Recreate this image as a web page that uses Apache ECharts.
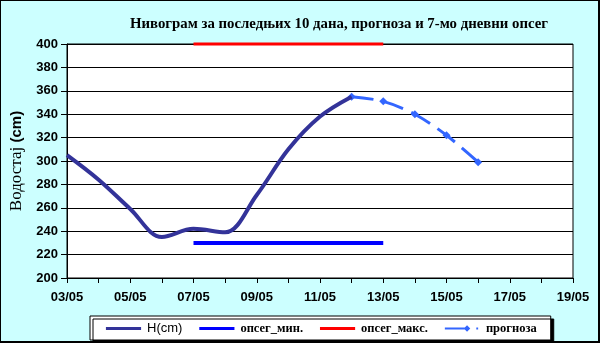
<!DOCTYPE html>
<html>
<head>
<meta charset="utf-8">
<script src="https://cdn.jsdelivr.net/npm/echarts@6/dist/echarts.min.js"></script>
<style>
  html, body { margin: 0; padding: 0; background: #CCFFFF; }
  #wrap { position: relative; width: 600px; height: 343px; }
  #chart { width: 600px; height: 343px; }
  #frame { position: absolute; left: 0; top: 0; width: 600px; height: 343px; box-sizing: border-box;
           border-top: 1px solid #000; border-left: 1px solid #000; border-right: 2px solid #000; border-bottom: 2px solid #000;
           pointer-events: none; }
</style>
</head>
<body>
<div id="wrap"><div id="chart"></div><div id="frame"></div></div>
<script>
// Measured water level H (cm), one reading per day
const levelDates = ['03/05', '04/05', '05/05', '06/05', '07/05', '08/05', '09/05', '10/05', '11/05', '12/05'];
const levelValues = [305, 284, 259, 235, 242, 239, 271, 310, 338, 355];

// Forecast for the coming days
const forecastDates = ['12/05', '13/05', '14/05', '15/05', '16/05'];
const forecastValues = [355, 351, 340, 322, 299];

// 7-day flood-stage band (min / max)
const bandDates = ['07/05', '13/05'];
const bandMin = [230, 230];
const bandMax = [400, 400];

// Axis range and labels
const xFirst = '03/05';
const xLast = '19/05';
const yMin = 200, yMax = 400, yStep = 20;

const day = s => parseInt(s.split('/')[0], 10);
const pairs = (dates, vals) => dates.map((d, i) => [day(d), vals[i]]);
const pad = n => (n < 10 ? '0' : '') + n;

const serif = '"Liberation Serif", "Times New Roman", serif';
const sans = '"Liberation Sans", Arial, sans-serif';

// Legend icons: the zero-length moves fix the icon box at 40x10
const box = 'M0,0 L0,0 M40,10 L40,10 ';
const barIcon = 'path://' + box + 'M1,3.5 L39,3.5 L39,6.5 L1,6.5 Z';
const forecastIcon = 'path://' + box +
  'M1,4 L25,4 L25,6 L1,6 Z M25,1.5 L28.5,5 L25,8.5 L21.5,5 Z M35,4 L37,4 L37,6 L35,6 Z';

const chart = echarts.init(document.getElementById('chart'));
chart.setOption({
  backgroundColor: '#CCFFFF',
  animation: false,
  title: {
    text: 'Нивограм за последњих 10 дана, прогноза и 7-мо дневни опсег',
    left: 334, top: 12, textAlign: 'center',
    textStyle: { fontFamily: serif, fontWeight: 'bold', fontSize: 14.8, color: '#000' }
  },
  grid: {
    left: 67, right: 27, top: 44, bottom: 65,
    show: true, backgroundColor: '#fff', borderColor: '#000', borderWidth: 1
  },
  xAxis: {
    type: 'value', min: day(xFirst), max: day(xLast), interval: 1,
    axisLine: { lineStyle: { color: '#000', width: 1 } },
    axisTick: { show: true, inside: false, length: 5, lineStyle: { color: '#000' } },
    splitLine: { show: false },
    axisLabel: {
      margin: 13, color: '#000', fontFamily: sans, fontWeight: 'bold', fontSize: 13,
      formatter: v => (v % 2 === 1 ? pad(v) + '/05' : '')
    }
  },
  yAxis: {
    type: 'value', min: yMin, max: yMax, interval: yStep,
    name: '{a|Водостај }{b|(cm)}', nameLocation: 'middle', nameRotate: 90, nameGap: 42,
    nameTextStyle: {
      rich: {
        a: { fontFamily: serif, fontSize: 17, color: '#000' },
        b: { fontFamily: sans, fontWeight: 'bold', fontSize: 15, color: '#000' }
      }
    },
    axisLine: { show: true, lineStyle: { color: '#000', width: 1 } },
    axisTick: { show: true, length: 6, lineStyle: { color: '#000' } },
    splitLine: { show: true, lineStyle: { color: '#000', width: 1 } },
    axisLabel: { margin: 9, color: '#000', fontFamily: sans, fontWeight: 'bold', fontSize: 13 }
  },
  legend: {
    left: 90, top: 316,
    padding: [6, 14, 5, 15], itemGap: 16, itemWidth: 37, itemHeight: 10,
    backgroundColor: '#fff', borderColor: '#000', borderWidth: 1,
    shadowColor: '#000', shadowOffsetX: 3, shadowOffsetY: 3, shadowBlur: 0,
    data: [
      { name: 'H(cm)', icon: barIcon },
      { name: 'опсег_мин.', icon: barIcon },
      { name: 'опсег_макс.', icon: barIcon },
      { name: 'прогноза', icon: forecastIcon }
    ],
    formatter: n => (n === 'H(cm)' ? '{a|' + n + '}' : '{b|' + n + '}'),
    textStyle: {
      color: '#000',
      rich: {
        a: { fontFamily: sans, fontSize: 13, color: '#000' },
        b: { fontFamily: serif, fontWeight: 'bold', fontSize: 12.5, color: '#000' }
      }
    }
  },
  series: [
    {
      name: 'опсег_мин.', type: 'line', data: pairs(bandDates, bandMin),
      symbol: 'none', color: '#0000FF', lineStyle: { width: 4, color: '#0000FF' }, clip: false
    },
    {
      name: 'опсег_макс.', type: 'line', data: pairs(bandDates, bandMax),
      symbol: 'none', color: '#FF0000', lineStyle: { width: 3, color: '#FF0000' }, clip: false, z: 5
    },
    {
      name: 'прогноза', type: 'line', data: pairs(forecastDates, forecastValues),
      symbol: 'diamond', symbolSize: 8, color: '#3366FF',
      itemStyle: { color: '#3366FF' },
      lineStyle: { width: 3, color: '#3366FF', type: [22, 9] }, smooth: 0.3
    },
    {
      name: 'H(cm)', type: 'line', data: pairs(levelDates, levelValues),
      symbol: 'none', smooth: 0.35, color: '#333399',
      lineStyle: { width: 4, color: '#333399' }, z: 4
    }
  ]
});
</script>
</body>
</html>
